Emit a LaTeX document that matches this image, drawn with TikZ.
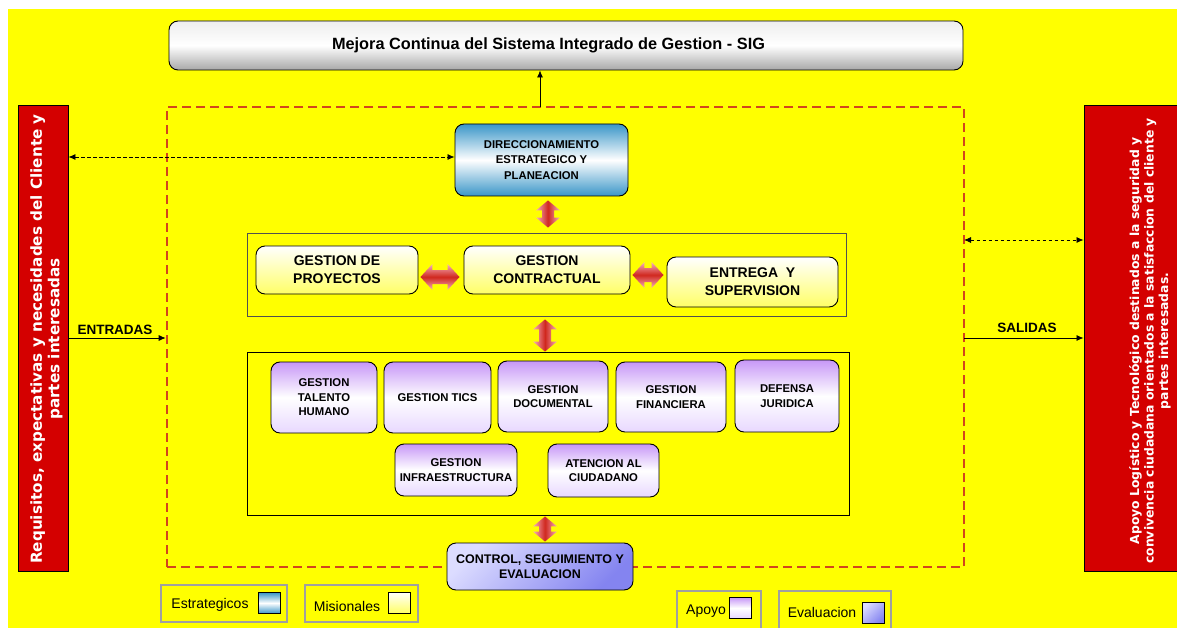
\documentclass[tikz,border=0pt]{standalone}
\usepackage{fontspec}
\setmainfont{Liberation Sans}
\newfontfamily\vfont{DejaVu Sans}
\usetikzlibrary{arrows.meta,calc}
\definecolor{bgyellow}{HTML}{FFFF00}
\definecolor{redboxc}{HTML}{D40000}
\definecolor{framered}{HTML}{D2451C}
\definecolor{dirblue}{HTML}{3A96C8}
\definecolor{misyel}{HTML}{FFFF66}
\definecolor{apopur}{HTML}{C797F7}
\definecolor{apolight}{HTML}{E8D8FF}
\definecolor{ctllight}{HTML}{DCDCFF}
\definecolor{ctldark}{HTML}{8484F0}
\definecolor{arrred}{HTML}{D0281E}
\definecolor{arrpink}{HTML}{F4B0C0}
\definecolor{legendgray}{HTML}{A0A0A0}
\definecolor{titlegray}{HTML}{A8A8A8}
\definecolor{contgray}{HTML}{505050}

\newcommand{\blockv}[2]{%
  \shade[left color=arrpink,right color=arrpink,middle color=arrred]
  let \p1=(#1),\p2=(#2) in
  (\x1,\y1) -- (\x1+12pt,\y1-10pt) -- (\x1+6pt,\y1-10pt) -- (\x1+6pt,\y2+10pt)
  -- (\x1+12pt,\y2+10pt) -- (\x1,\y2) -- (\x1-12pt,\y2+10pt) -- (\x1-6pt,\y2+10pt)
  -- (\x1-6pt,\y1-10pt) -- (\x1-12pt,\y1-10pt) -- cycle;}
\newcommand{\blockh}[2]{%
  \shade[top color=arrpink,bottom color=arrpink,middle color=arrred]
  let \p1=(#1),\p2=(#2) in
  (\x1,\y1) -- (\x1+12pt,\y1+13pt) -- (\x1+12pt,\y1+7pt) -- (\x2-12pt,\y1+7pt)
  -- (\x2-12pt,\y1+13pt) -- (\x2,\y1) -- (\x2-12pt,\y1-13pt) -- (\x2-12pt,\y1-7pt)
  -- (\x1+12pt,\y1-7pt) -- (\x1+12pt,\y1-13pt) -- cycle;}

\tikzset{
  every node/.style={inner sep=1pt},
  procbox/.style={draw=black, line width=0.9pt, rounded corners=9pt, align=center, font=\bfseries},
  stratbox/.style={procbox, top color=dirblue, bottom color=dirblue, middle color=white,
     font=\bfseries\fontsize{11.3}{15.5}\selectfont},
  misbox/.style={procbox, top color=white, bottom color=misyel,
     font=\bfseries\fontsize{14}{18}\selectfont},
  apobox/.style={procbox, top color=apopur, bottom color=apolight, middle color=white,
     font=\bfseries\fontsize{11.3}{14.5}\selectfont},
  ctlbox/.style={procbox, top color=ctllight, bottom color=ctldark, shading angle=45,
     font=\bfseries\fontsize{12.5}{14.5}\selectfont},
  titlebox/.style={procbox, top color=white!80!titlegray, bottom color=titlegray, middle color=white},
  titletext/.style={font=\bfseries\fontsize{16.3}{18}\selectfont},
  sidebox/.style={draw=black, line width=0.9pt, fill=redboxc},
  sidetext/.style={rotate=90, text=white, align=center},
  contbox/.style={draw=contgray, line width=0.9pt},
  legframe/.style={draw=legendgray, line width=1.2pt},
  legtext/.style={font=\fontsize{14}{16}\selectfont},
  swatch/.style={draw=black, line width=0.8pt, minimum width=22pt, minimum height=21pt},
  arrowlbl/.style={font=\bfseries\fontsize{13.5}{15}\selectfont},
  solidarrow/.style={line width=0.8pt, -{Latex[length=7pt,width=6pt]}},
  dasharrow/.style={line width=0.8pt, dashed, dash pattern=on 3.5pt off 2.5pt,
     {Latex[length=7pt,width=6pt]}-{Latex[length=7pt,width=6pt]}},
  framestyle/.style={draw=framered, line width=2.6pt, dash pattern=on 9pt off 5pt},
}

\begin{document}
\begin{tikzpicture}[x=1pt,y=-1pt]
\useasboundingbox (0,0) rectangle (1177,628);
\fill[bgyellow] (8,9) rectangle (1177,628);

% dashed frame
\node[framestyle, minimum width=797pt, minimum height=460pt] (frame) at (565.5,337) {};

% title
\node[titlebox, minimum width=794pt, minimum height=49pt] (title) at (566,45.5) {};
\node[titletext] (titlet) at (548.5,45.5) {Mejora Continua del Sistema Integrado de Gestion - SIG};
\coordinate (ttop) at (540,107);
\draw[solidarrow] (ttop) -- (ttop |- title.south);

% side boxes
\node[sidebox, minimum width=50pt, minimum height=466pt] (req) at (43,338) {};
\node[sidetext, font=\vfont\bfseries\fontsize{15.2}{17.5}\selectfont] (reqt) at (46.5,339)
  {Requisitos, expectativas y necesidades del Cliente y\\partes interesadas};
\node[sidebox, minimum width=116pt, minimum height=466pt] (out) at (1142,338) {};
\node[sidetext, font=\vfont\bfseries\fontsize{12.4}{14.5}\selectfont] (outt) at (1150,341)
  {Apoyo Logístico y Tecnológico destinados a la seguridad y\\convivencia ciudadana orientados a la satisfaccion del cliente y\\partes interesadas.};

% strategic
\node[stratbox, minimum width=173pt, minimum height=72pt] (dir) at (541.5,160)
  {DIRECCIONAMIENTO\\ESTRATEGICO Y\\PLANEACION};

% containers
\node[contbox, minimum width=599pt, minimum height=83pt] (mis) at (546.5,274.5) {};
\node[contbox, draw=black, minimum width=602pt, minimum height=163pt] (apo) at (548,433.5) {};

% misional
\node[misbox, minimum width=162pt, minimum height=48pt] (proy) at (337,270) {GESTION DE\\PROYECTOS};
\node[misbox, minimum width=166pt, minimum height=48pt] (contr) at (547,270) {GESTION\\CONTRACTUAL};
\node[misbox, minimum width=171pt, minimum height=50pt] (entr) at (752.5,282) {ENTREGA\ \ Y\\SUPERVISION};

% apoyo
\node[apobox, minimum width=106pt, minimum height=71pt] (tal) at (324,397.5) {GESTION\\TALENTO\\HUMANO};
\node[apobox, minimum width=107pt, minimum height=71pt] (tics) at (437.5,397.5) {GESTION TICS};
\node[apobox, minimum width=110pt, minimum height=71pt] (doc) at (553,396.5) {GESTION\\DOCUMENTAL};
\node[apobox, minimum width=110pt, minimum height=70pt] (fin) at (671,397) {GESTION\\FINANCIERA};
\node[apobox, minimum width=104pt, minimum height=72pt] (def) at (787,396) {DEFENSA\\JURIDICA};
\node[apobox, minimum width=122pt, minimum height=52pt] (infra) at (456,470) {GESTION\\INFRAESTRUCTURA};
\node[apobox, minimum width=111pt, minimum height=53pt] (aten) at (603.5,470.5) {ATENCION AL\\CIUDADANO};

% control
\node[ctlbox, minimum width=186pt, minimum height=47pt] (ctl) at (540,566.5)
  {CONTROL, SEGUIMIENTO Y\\EVALUACION};

% block arrows
\coordinate (v1a) at ($(dir.south)+(6.5,4)$);
\coordinate (v1b) at ($(mis.north)+(1.5,-5)$);
\blockv{v1a}{v1b}
\coordinate (h1a) at ($(proy.east)+(2,7)$);
\coordinate (h1b) at ($(contr.west)+(-4,7)$);
\blockh{h1a}{h1b}
\coordinate (h2a) at ($(contr.east)+(2,5)$);
\coordinate (h2b) at ($(entr.west)+(-3,-7)$);
\blockh{h2a}{h2b}
\coordinate (v2a) at ($(mis.south)+(-1.5,3)$);
\coordinate (v2b) at ($(apo.north)+(-3,0)$);
\blockv{v2a}{v2b}
\coordinate (v3a) at ($(apo.south)+(-3,1)$);
\coordinate (v3b) at ($(ctl.north)+(5,-1)$);
\blockv{v3a}{v3b}

% connectors with sides
\coordinate (dl) at ($(dir.west)+(0,-3)$);
\draw[dasharrow] (dl -| req.east) -- (dl);
\coordinate (dr) at (964,240);
\draw[dasharrow] (dr) -- (dr -| out.west);
\draw[solidarrow] (req.east) -- (req.east -| frame.west);
\node[arrowlbl] (entl) at (115,330) {ENTRADAS};
\coordinate (sr) at (964,338);
\draw[solidarrow] (sr) -- (sr -| out.west);
\node[arrowlbl] (sall) at (1027,328) {SALIDAS};

% legend
\node[legframe, minimum width=126pt, minimum height=37pt] (lgS) at (224,603.5) {};
\node[legtext] (lgSt) at (210,605) {Estrategicos};
\node[swatch, top color=dirblue, bottom color=dirblue, middle color=white] (swS) at (269,603) {};
\node[legframe, minimum width=113pt, minimum height=37pt] (lgM) at (361.5,603.5) {};
\node[legtext] (lgMt) at (347,606) {Misionales};
\node[swatch, top color=white, bottom color=misyel] (swM) at (399,602.5) {};
\node[legframe, minimum width=84pt, minimum height=40pt] (lgA) at (719,611) {};
\node[legtext] (lgAt) at (706,611) {Apoyo};
\node[swatch, top color=apopur, bottom color=apolight, middle color=white] (swA) at (740,608) {};
\node[legframe, minimum width=112pt, minimum height=40pt] (lgE) at (835,611) {};
\node[legtext] (lgEt) at (822,612) {Evaluacion};
\node[swatch, top color=ctllight, bottom color=ctldark, shading angle=45] (swE) at (873,613) {};
\end{tikzpicture}
\end{document}
